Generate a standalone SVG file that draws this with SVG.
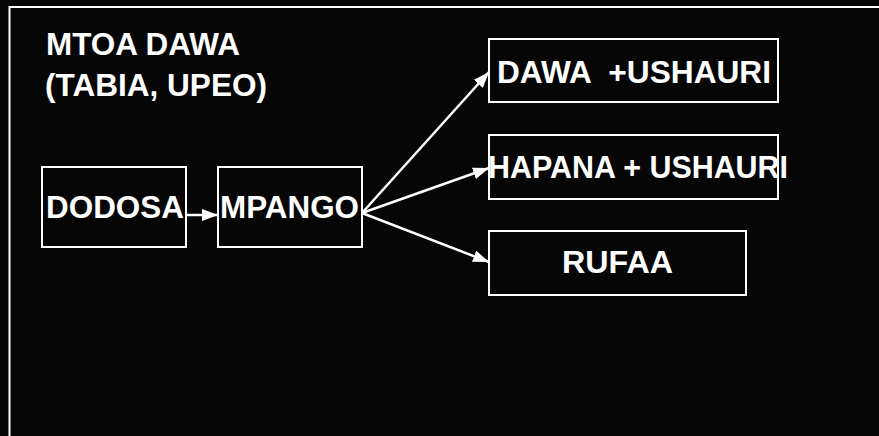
<svg xmlns="http://www.w3.org/2000/svg" width="879" height="436" viewBox="0 0 879 436">
<style>
.box{fill:none;stroke:#fff;stroke-width:2}
.t{font-family:"Liberation Sans",Arial,sans-serif;font-weight:bold;font-size:31.5px;fill:#fff}
.h{font-size:30.5px}
.c{stroke:#fff;stroke-width:2.5;fill:none}
</style>
<defs>
<marker id="ah" viewBox="0 0 16 12" refX="16" refY="6" markerWidth="16" markerHeight="12" markerUnits="userSpaceOnUse" orient="auto">
<path d="M0,0 L16,6 L0,12 Z" fill="#fff"/>
</marker>
</defs>
<rect x="0" y="0" width="879" height="436" fill="#060606"/>
<path d="M9.5,436 V7 H879" fill="none" stroke="#fff" stroke-width="2"/>
<g id="title">
<text class="t h" x="46" y="55" textLength="194" lengthAdjust="spacingAndGlyphs">MTOA DAWA</text>
<text class="t h" x="45" y="96" textLength="222" lengthAdjust="spacingAndGlyphs">(TABIA, UPEO)</text>
</g>
<g id="connectors">
<line class="c" x1="186" y1="215" x2="218" y2="215" marker-end="url(#ah)"/>
<line class="c" x1="362" y1="213" x2="489" y2="72" marker-end="url(#ah)"/>
<line class="c" x1="362" y1="213" x2="489" y2="168" marker-end="url(#ah)"/>
<line class="c" x1="362" y1="213" x2="489" y2="262" marker-end="url(#ah)"/>
</g>
<g id="dodosa">
<rect class="box" x="42" y="167" width="144" height="80"/>
<text class="t" x="46" y="218" textLength="138" lengthAdjust="spacingAndGlyphs">DODOSA</text>
</g>
<g id="mpango">
<rect class="box" x="218" y="167" width="144" height="80"/>
<text class="t" x="220" y="218" textLength="139" lengthAdjust="spacingAndGlyphs">MPANGO</text>
</g>
<g id="dawa">
<rect class="box" x="489" y="39" width="289" height="63"/>
<text class="t" x="497" y="83" xml:space="preserve" textLength="274" lengthAdjust="spacingAndGlyphs">DAWA  +USHAURI</text>
</g>
<g id="hapana">
<rect class="box" x="489" y="135" width="289" height="64"/>
<text class="t" x="488" y="178" textLength="300" lengthAdjust="spacingAndGlyphs">HAPANA + USHAURI</text>
</g>
<g id="rufaa">
<rect class="box" x="489" y="231" width="257" height="64"/>
<text class="t" x="562" y="273" textLength="111" lengthAdjust="spacingAndGlyphs">RUFAA</text>
</g>
</svg>
